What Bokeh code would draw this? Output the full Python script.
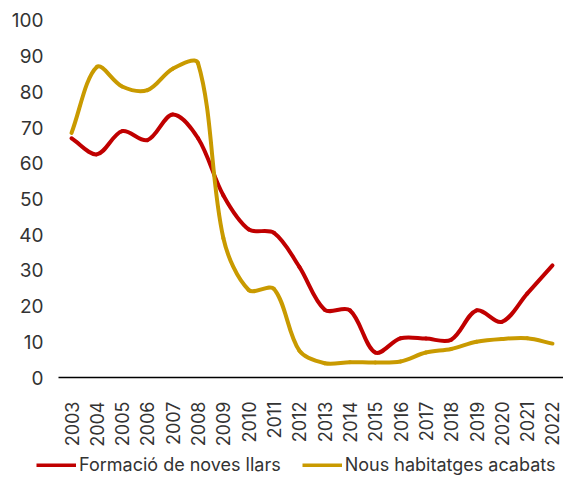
import math
import numpy as np
from bokeh.plotting import figure
from bokeh.models import Range1d, FixedTicker, Legend, LegendItem, ColumnDataSource
from bokeh.embed import file_html
from bokeh.resources import INLINE

years = list(range(2003, 2023))
llars = [67, 62.5, 69, 66.5, 73.7, 67, 51, 41.5, 40.5, 31, 19, 18.8, 7, 11, 10.9, 10.6, 18.8, 15.6, 23.5, 31.4]
habitatges = [68.5, 87, 81.5, 80.5, 86.5, 88, 39, 24.5, 24.8, 7.5, 4, 4.3, 4.2, 4.5, 7, 8, 10, 10.8, 11, 9.5]
series_names = ["Formació de noves llars", "Nous habitatges acabats"]
colors = ["#C00000", "#C99A00"]
FONT = "Inter"

X_START, X_END = 2000.195, 2022.435
Y_START, Y_END = -28.01, 105.6
AXIS_X0 = 2002.486

p = figure(width=563, height=477, output_backend="svg", toolbar_location=None,
           x_range=Range1d(X_START, X_END), y_range=Range1d(Y_START, Y_END),
           min_border_left=0, min_border_right=0, min_border_top=0, min_border_bottom=0)
p.outline_line_color = None
p.xgrid.visible = False
p.ygrid.visible = False

SX, SY = 25.3, 3.57  # approximate pixel scale used for the smoothing weights


def smooth_segments(xs, ys):
    P = np.column_stack([np.asarray(xs, float) * SX, np.asarray(ys, float) * SY])
    n = len(P)
    cin, cout = np.zeros_like(P), np.zeros_like(P)
    for i in range(n):
        a = P[max(i - 1, 0)]
        b = P[min(i + 1, n - 1)]
        T = b - a
        dp = np.linalg.norm(P[i] - a)
        dn = np.linalg.norm(b - P[i])
        tot = dp + dn if dp + dn > 0 else 1
        cout[i] = P[i] + T * dn / tot / 3
        cin[i] = P[i] - T * dp / tot / 3
    d = dict(x0=[], y0=[], x1=[], y1=[], cx0=[], cy0=[], cx1=[], cy1=[])
    for i in range(n - 1):
        d["x0"].append(P[i, 0] / SX); d["y0"].append(P[i, 1] / SY)
        d["x1"].append(P[i + 1, 0] / SX); d["y1"].append(P[i + 1, 1] / SY)
        d["cx0"].append(cout[i, 0] / SX); d["cy0"].append(cout[i, 1] / SY)
        d["cx1"].append(cin[i + 1, 0] / SX); d["cy1"].append(cin[i + 1, 1] / SY)
    return d


items = []
for name, vals, c in zip(series_names, [llars, habitatges], colors):
    src = ColumnDataSource(smooth_segments(years, vals))
    p.bezier(x0="x0", y0="y0", x1="x1", y1="y1", cx0="cx0", cy0="cy0", cx1="cx1", cy1="cy1",
             source=src, line_color=c, line_width=4, line_cap="round")
    r = p.line(x=[float("nan")], y=[float("nan")], line_color=c, line_width=4)
    items.append(LegendItem(label=name, renderers=[r]))

legend = Legend(items=items, orientation="horizontal", location=(36, 2),
                label_text_font=FONT, label_text_font_size="18px", label_text_color="#333333",
                glyph_width=40, glyph_height=4, spacing=21, label_standoff=3,
                border_line_color=None, background_fill_alpha=0, padding=0, margin=0)
p.add_layout(legend)

p.xaxis.fixed_location = 0
p.xaxis.bounds = (AXIS_X0, X_END)
p.xaxis.ticker = FixedTicker(ticks=years)
p.xaxis.major_label_orientation = math.pi / 2
p.xaxis.major_tick_line_color = None
p.xaxis.major_tick_out = 0
p.xaxis.major_tick_in = 0
p.xaxis.minor_tick_line_color = None
p.xaxis.axis_line_color = "#000000"
p.xaxis.axis_line_width = 1.5
p.xaxis.major_label_text_font = FONT
p.xaxis.major_label_text_font_size = "18px"
p.xaxis.major_label_text_color = "#333333"
p.xaxis.major_label_standoff = 24

p.yaxis.fixed_location = AXIS_X0
p.yaxis.bounds = (0, 100)
p.yaxis.ticker = FixedTicker(ticks=list(range(0, 101, 10)))
p.yaxis.axis_line_color = None
p.yaxis.major_tick_line_color = None
p.yaxis.major_tick_out = 0
p.yaxis.major_tick_in = 0
p.yaxis.minor_tick_line_color = None
p.yaxis.major_label_text_font = FONT
p.yaxis.major_label_text_font_size = "19px"
p.yaxis.major_label_text_color = "#333333"
p.yaxis.major_label_standoff = 15

open("out.html", "w").write(file_html(p, INLINE))
